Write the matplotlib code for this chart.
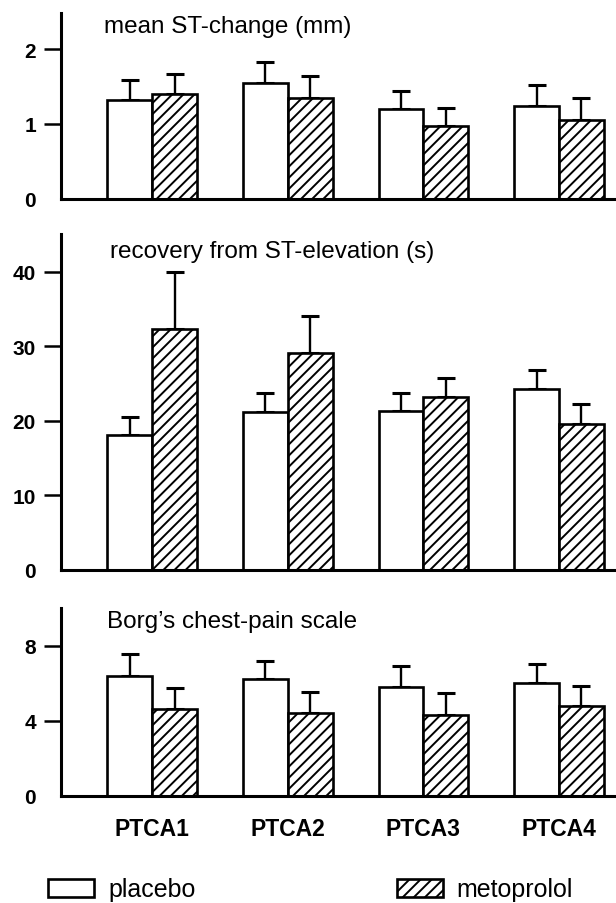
import numpy as np
import matplotlib
matplotlib.use('Agg')
import matplotlib.pyplot as plt

plt.rcParams['font.family'] = ['Liberation Sans', 'DejaVu Sans']
plt.rcParams['hatch.linewidth'] = 1.4

# PTCA sessions
sessions = ['PTCA1', 'PTCA2', 'PTCA3', 'PTCA4']

# mean ST-change (mm): mean and SEM
st_placebo     = [1.32, 1.55, 1.20, 1.24]
st_placebo_sem = [0.27, 0.27, 0.24, 0.28]
st_meto        = [1.40, 1.35, 0.97, 1.05]
st_meto_sem    = [0.27, 0.29, 0.24, 0.30]

# recovery from ST-elevation (s)
rec_placebo     = [18.1, 21.2, 21.3, 24.3]
rec_placebo_sem = [2.4, 2.5, 2.4, 2.5]
rec_meto        = [32.4, 29.1, 23.2, 19.6]
rec_meto_sem    = [7.6, 5.0, 2.5, 2.7]

# Borg's chest-pain scale
borg_placebo     = [6.4, 6.2, 5.8, 6.0]
borg_placebo_sem = [1.17, 1.0, 1.13, 1.0]
borg_meto        = [4.6, 4.4, 4.3, 4.8]
borg_meto_sem    = [1.16, 1.15, 1.19, 1.07]

panels = [
    ('mean ST-change (mm)', st_placebo, st_placebo_sem, st_meto, st_meto_sem,
     [0, 1, 2], 2.48, [0.099, 0.7788, 0.901, 0.2057], (0.169, 0.970)),
    ('recovery from ST-elevation (s)', rec_placebo, rec_placebo_sem, rec_meto, rec_meto_sem,
     [0, 10, 20, 30, 40], 45.1, [0.099, 0.3684, 0.901, 0.3717], (0.179, 0.721)),
    ("Borg\u2019s chest-pain scale", borg_placebo, borg_placebo_sem, borg_meto, borg_meto_sem,
     [0, 4, 8], 10.0, [0.099, 0.1184, 0.901, 0.208], (0.174, 0.312)),
]

fig = plt.figure(figsize=(6.16, 9.04), dpi=100)
x = np.arange(len(sessions))
w = 0.33

for k, (title, pl, pl_e, me, me_e, yt, ytop, rect, tpos) in enumerate(panels):
    ax = fig.add_axes(rect)
    b1 = ax.bar(x - w / 2, pl, w, color='white', edgecolor='black', linewidth=1.9, zorder=2)
    b2 = ax.bar(x + w / 2, me, w, color='white', edgecolor='black', linewidth=1.9,
                hatch='///', zorder=2)
    # only the upper half of the error bar is drawn
    ax.errorbar(x - w / 2, pl, yerr=[np.zeros(4), pl_e], fmt='none', ecolor='black',
                elinewidth=1.7, capsize=6.5, capthick=2.2, zorder=1)
    ax.errorbar(x + w / 2, me, yerr=[np.zeros(4), me_e], fmt='none', ecolor='black',
                elinewidth=1.7, capsize=6.5, capthick=2.2, zorder=1)
    ax.set_xlim(-0.672, 3.42)
    ax.set_ylim(0, ytop)
    ax.set_yticks(yt)
    ax.set_yticklabels([str(v) for v in yt], fontsize=15, fontweight='bold')
    ax.tick_params(axis='y', length=12, width=1.8, pad=6)
    ax.yaxis.get_major_ticks()[0].tick1line.set_visible(False)
    for s in ['top', 'right']:
        ax.spines[s].set_visible(False)
    for s in ['left', 'bottom']:
        ax.spines[s].set_linewidth(2.2)
    if k == 2:
        ax.set_xticks(x)
        ax.set_xticklabels(sessions, fontsize=16.5, fontweight='bold')
        ax.tick_params(axis='x', length=0, pad=15)
    else:
        ax.set_xticks([])
    fig.text(tpos[0], tpos[1], title, fontsize=17.5, va='center', ha='left')

leg_kw = dict(frameon=False, loc='center left', borderpad=0, borderaxespad=0,
              handlelength=1.85, handleheight=0.75, handletextpad=0.55,
              prop={'size': 18})
fig.legend([b1], ['placebo'], bbox_to_anchor=(0.078, 0.015), **leg_kw)
fig.legend([b2], ['metoprolol'], bbox_to_anchor=(0.644, 0.015), **leg_kw)

fig.savefig('out.png', dpi=100)
